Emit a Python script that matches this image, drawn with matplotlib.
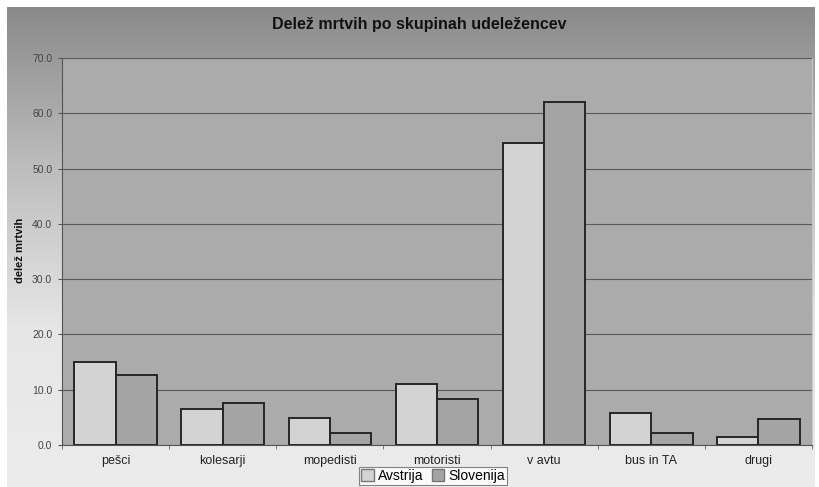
import matplotlib
matplotlib.use("Agg")
import matplotlib.pyplot as plt
import numpy as np
from matplotlib.patches import Patch
from matplotlib.colors import LinearSegmentedColormap

plt.rcParams['font.family'] = ['Liberation Sans', 'DejaVu Sans']

categories = ["pešci", "kolesarji", "mopedisti", "motoristi", "v avtu", "bus in TA", "drugi"]
avstrija = [15.0, 6.5, 4.9, 11.0, 54.6, 5.8, 1.5]
slovenija = [12.7, 7.6, 2.2, 8.3, 62.0, 2.2, 4.7]
series_names = ["Avstrija", "Slovenija"]
yticks = [0, 10, 20, 30, 40, 50, 60, 70]

fig = plt.figure(figsize=(8.2, 4.87), dpi=100)
fig.patch.set_facecolor("white")

# gradient background
bg = fig.add_axes([7/820, 0, 808/820, 1 - 7/487], zorder=0)
grad = np.linspace(0, 1, 256).reshape(-1, 1)
cmap = LinearSegmentedColormap.from_list("g", ["#8a8a8a", "#bdbdbd", "#e6e6e6", "#ececec"])
bg.imshow(grad, aspect="auto", cmap=cmap, extent=[0, 1, 0, 1], origin="upper")
bg.set_axis_off()

ax = fig.add_axes([62/820, 1 - 445/487, 750/820, (445 - 58)/487], zorder=1)
ax.set_facecolor("#ababab")
x = np.arange(len(categories))
w = 0.385
ax.bar(x - w/2, avstrija, w, color="#d3d3d3", edgecolor="#262626", linewidth=1.4, zorder=3)
ax.bar(x + w/2, slovenija, w, color="#a4a4a4", edgecolor="#262626", linewidth=1.4, zorder=3)

ax.set_xlim(-0.5, len(categories) - 0.5)
ax.set_ylim(0, 70)
ax.set_yticks(yticks)
ax.set_yticklabels([f"{v:.1f}" for v in yticks], fontsize=7.5, color="#444444")
ax.yaxis.grid(True, color="#5a5a5a", linewidth=0.8, zorder=0)
ax.set_axisbelow(True)
ax.set_xticks(x)
ax.set_xticklabels(categories, fontsize=9, color="#222222")
ax.tick_params(axis="x", length=0, pad=7)
ax.set_xticks(np.arange(len(categories) + 1) - 0.5, minor=True)
ax.tick_params(axis="x", which="minor", length=3, color="#666666")
ax.tick_params(axis="y", length=3, color="#555555", pad=4)
ax.spines["top"].set_visible(False)
ax.spines["right"].set_color("#c8c8c8")
ax.spines["left"].set_color("#555555")
ax.spines["bottom"].set_color("#555555")

fig.text(20/820, 1 - 250/487, "delež mrtvih", rotation=90, ha="center", va="center",
         fontsize=8, fontweight="bold", color="#111111")
fig.text(419/820, 1 - 25/487, "Delež mrtvih po skupinah udeležencev", ha="center", va="center",
         fontsize=11.5, fontweight="bold", color="#111111")

handles = [Patch(facecolor="#d3d3d3", edgecolor="#777777"), Patch(facecolor="#a4a4a4", edgecolor="#777777")]
leg = fig.legend(handles, series_names, loc="center", bbox_to_anchor=(433/820, 1 - 476/487), ncol=2,
                 fontsize=10, frameon=True, fancybox=False, handlelength=0.9, handleheight=0.9,
                 handletextpad=0.3, columnspacing=0.6, borderpad=0.15, borderaxespad=0)
leg.get_frame().set_edgecolor("#666666")
leg.get_frame().set_facecolor("white")
leg.get_frame().set_linewidth(0.8)

fig.savefig("out.png", dpi=100)
